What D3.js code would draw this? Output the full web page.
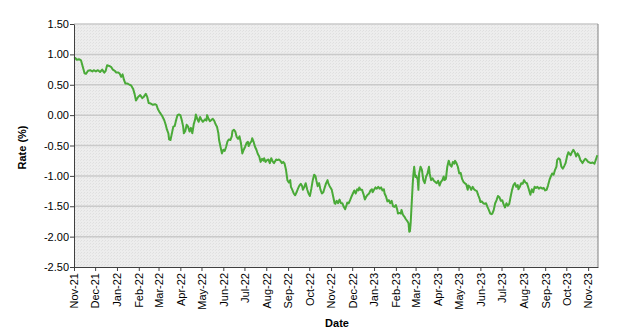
<!DOCTYPE html>
<html>
<head>
<meta charset="utf-8">
<script src="https://cdn.jsdelivr.net/npm/d3@7/dist/d3.min.js"></script>
<style>
  html, body { margin: 0; padding: 0; background: #ffffff; }
  svg { display: block; }
  text { font-family: Arial, "Liberation Sans", sans-serif; fill: #000; }
</style>
</head>
<body>
<svg id="chart" width="621" height="334"></svg>
<script>
// ---- data ----
const dates = [
"2021-11-01","2021-11-03","2021-11-05","2021-11-08","2021-11-11","2021-11-16","2021-11-18","2021-11-21","2021-11-24","2021-11-27","2021-11-29",
"2021-12-02","2021-12-05","2021-12-08","2021-12-11","2021-12-14","2021-12-16","2021-12-18","2021-12-21","2021-12-24","2021-12-26","2021-12-29","2021-12-31",
"2022-01-03","2022-01-05","2022-01-07","2022-01-09","2022-01-11","2022-01-13","2022-01-16","2022-01-19","2022-01-21","2022-01-24","2022-01-26","2022-01-28","2022-01-31",
"2022-02-03","2022-02-06","2022-02-08","2022-02-11","2022-02-13","2022-02-15","2022-02-18","2022-02-21","2022-02-24","2022-02-26","2022-02-28",
"2022-03-03","2022-03-06","2022-03-09","2022-03-11","2022-03-13","2022-03-15","2022-03-16","2022-03-18","2022-03-20","2022-03-22","2022-03-24","2022-03-26","2022-03-28","2022-03-30",
"2022-04-01","2022-04-03","2022-04-05","2022-04-06","2022-04-08","2022-04-10","2022-04-12","2022-04-14","2022-04-16","2022-04-18","2022-04-20","2022-04-22","2022-04-23","2022-04-25","2022-04-27","2022-04-29",
"2022-05-01","2022-05-03","2022-05-06","2022-05-08","2022-05-09","2022-05-11","2022-05-13","2022-05-15","2022-05-17","2022-05-19","2022-05-21","2022-05-23","2022-05-25","2022-05-26","2022-05-28","2022-05-30",
"2022-06-01","2022-06-03","2022-06-05","2022-06-07","2022-06-09","2022-06-11","2022-06-13","2022-06-14","2022-06-16","2022-06-18","2022-06-20","2022-06-22","2022-06-24","2022-06-26","2022-06-28","2022-06-30",
"2022-07-02","2022-07-04","2022-07-06","2022-07-07","2022-07-09","2022-07-11","2022-07-12","2022-07-14","2022-07-16","2022-07-18","2022-07-20","2022-07-22","2022-07-24","2022-07-26","2022-07-28","2022-07-29","2022-07-31",
"2022-08-02","2022-08-04","2022-08-06","2022-08-08","2022-08-10","2022-08-12","2022-08-14","2022-08-15","2022-08-17","2022-08-19","2022-08-21","2022-08-23","2022-08-25","2022-08-27","2022-08-29","2022-08-31",
"2022-09-02","2022-09-04","2022-09-05","2022-09-07","2022-09-09","2022-09-11","2022-09-13","2022-09-15","2022-09-17","2022-09-19","2022-09-21","2022-09-22","2022-09-24","2022-09-26","2022-09-28","2022-09-30",
"2022-10-02","2022-10-04","2022-10-06","2022-10-08","2022-10-10","2022-10-11","2022-10-13","2022-10-15","2022-10-17","2022-10-19","2022-10-21","2022-10-23","2022-10-25","2022-10-27","2022-10-28","2022-10-30",
"2022-11-02","2022-11-04","2022-11-06","2022-11-07","2022-11-09","2022-11-11","2022-11-13","2022-11-15","2022-11-17","2022-11-19","2022-11-21","2022-11-23","2022-11-24","2022-11-26","2022-11-28","2022-11-30",
"2022-12-02","2022-12-04","2022-12-06","2022-12-08","2022-12-10","2022-12-11","2022-12-13","2022-12-15","2022-12-17","2022-12-19","2022-12-21","2022-12-23","2022-12-25","2022-12-27","2022-12-29","2022-12-30",
"2023-01-01","2023-01-03","2023-01-05","2023-01-07","2023-01-09","2023-01-11","2023-01-13","2023-01-15","2023-01-16","2023-01-18","2023-01-20","2023-01-22","2023-01-24","2023-01-26","2023-01-28","2023-01-30",
"2023-02-01","2023-02-03","2023-02-04","2023-02-06","2023-02-08","2023-02-09","2023-02-11","2023-02-13","2023-02-15","2023-02-17","2023-02-19","2023-02-20","2023-02-21","2023-02-22","2023-02-23","2023-02-24","2023-02-25","2023-02-26","2023-02-27","2023-02-28",
"2023-03-01","2023-03-02","2023-03-04","2023-03-05","2023-03-06","2023-03-08","2023-03-10","2023-03-12","2023-03-14","2023-03-16","2023-03-18","2023-03-20","2023-03-21","2023-03-23","2023-03-25","2023-03-27","2023-03-29","2023-03-31",
"2023-04-02","2023-04-04","2023-04-06","2023-04-08","2023-04-10","2023-04-11","2023-04-13","2023-04-15","2023-04-17","2023-04-19","2023-04-21","2023-04-23","2023-04-25","2023-04-26","2023-04-28","2023-04-30",
"2023-05-02","2023-05-04","2023-05-06","2023-05-08","2023-05-10","2023-05-12","2023-05-14","2023-05-15","2023-05-17","2023-05-19","2023-05-21","2023-05-23","2023-05-25","2023-05-27","2023-05-29","2023-05-31",
"2023-06-01","2023-06-03","2023-06-05","2023-06-07","2023-06-09","2023-06-11","2023-06-13","2023-06-15","2023-06-17","2023-06-18","2023-06-20","2023-06-22","2023-06-24","2023-06-26","2023-06-28","2023-06-30",
"2023-07-02","2023-07-04","2023-07-06","2023-07-08","2023-07-10","2023-07-12","2023-07-14","2023-07-16","2023-07-18","2023-07-20","2023-07-22","2023-07-24","2023-07-25","2023-07-27","2023-07-29","2023-07-31",
"2023-08-02","2023-08-04","2023-08-06","2023-08-08","2023-08-10","2023-08-11","2023-08-13","2023-08-15","2023-08-17","2023-08-19","2023-08-21","2023-08-23","2023-08-25","2023-08-27","2023-08-28","2023-08-30",
"2023-09-01","2023-09-03","2023-09-05","2023-09-07","2023-09-09","2023-09-11","2023-09-13","2023-09-15","2023-09-17","2023-09-18","2023-09-20","2023-09-22","2023-09-24","2023-09-26","2023-09-28","2023-09-30",
"2023-10-02","2023-10-04","2023-10-05","2023-10-07","2023-10-09","2023-10-11","2023-10-13","2023-10-15","2023-10-17","2023-10-19","2023-10-21","2023-10-23","2023-10-24","2023-10-26","2023-10-28","2023-10-30",
"2023-11-01","2023-11-03","2023-11-05","2023-11-07","2023-11-09","2023-11-10","2023-11-12","2023-11-14"
];
const rates = [
0.93,0.94,0.91,0.92,0.90,0.69,0.68,0.73,0.74,0.72,0.74,
0.72,0.74,0.71,0.75,0.70,0.73,0.82,0.81,0.79,0.75,0.73,0.70,
0.70,0.68,0.63,0.67,0.58,0.52,0.52,0.50,0.49,0.43,0.35,0.24,0.30,
0.33,0.28,0.30,0.35,0.30,0.20,0.19,0.17,0.18,0.17,0.10,
0.04,-0.01,-0.08,-0.15,-0.24,-0.30,-0.40,-0.41,-0.30,-0.19,-0.18,-0.08,0.00,0.01,
0.00,-0.08,-0.19,-0.30,-0.26,-0.16,-0.19,-0.27,-0.21,-0.30,-0.15,-0.07,0.01,-0.06,-0.11,-0.03,
-0.08,-0.11,-0.07,-0.09,0.00,-0.06,-0.10,-0.08,-0.06,-0.09,-0.15,-0.19,-0.30,-0.41,-0.52,-0.63,
-0.57,-0.59,-0.52,-0.43,-0.40,-0.41,-0.35,-0.26,-0.24,-0.27,-0.36,-0.39,-0.35,-0.46,-0.63,-0.57,
-0.52,-0.46,-0.44,-0.51,-0.46,-0.43,-0.38,-0.44,-0.52,-0.57,-0.64,-0.68,-0.77,-0.72,-0.75,-0.71,-0.77,
-0.74,-0.73,-0.79,-0.71,-0.76,-0.79,-0.75,-0.73,-0.74,-0.73,-0.75,-0.79,-0.77,-0.80,-0.90,-1.07,
-1.11,-1.07,-1.18,-1.23,-1.29,-1.32,-1.27,-1.21,-1.16,-1.13,-1.17,-1.23,-1.18,-1.12,-1.22,-1.29,
-1.33,-1.21,-1.07,-0.98,-1.01,-1.07,-1.17,-1.12,-1.23,-1.29,-1.27,-1.19,-1.12,-1.07,-1.12,-1.17,
-1.23,-1.34,-1.45,-1.46,-1.41,-1.45,-1.39,-1.45,-1.45,-1.51,-1.55,-1.48,-1.44,-1.45,-1.40,-1.34,
-1.29,-1.24,-1.29,-1.22,-1.24,-1.19,-1.23,-1.23,-1.30,-1.39,-1.34,-1.31,-1.29,-1.24,-1.22,-1.27,
-1.23,-1.19,-1.21,-1.18,-1.21,-1.19,-1.24,-1.22,-1.29,-1.34,-1.42,-1.40,-1.45,-1.41,-1.50,-1.51,
-1.48,-1.56,-1.62,-1.61,-1.62,-1.56,-1.64,-1.67,-1.71,-1.74,-1.78,-1.92,-1.91,-1.78,-1.56,-1.34,-1.12,-0.96,-0.85,-0.96,
-1.02,-1.00,-1.06,-1.23,-0.96,-0.85,-0.90,-1.07,-1.12,-1.01,-0.96,-0.85,-0.96,-1.07,-1.04,-1.08,-1.10,-1.12,
-1.08,-1.16,-1.10,-1.07,-1.01,-1.07,-1.05,-0.85,-0.75,-0.82,-0.85,-0.77,-0.80,-0.75,-0.79,-0.85,
-0.96,-0.95,-1.05,-1.10,-1.12,-1.14,-1.23,-1.16,-1.18,-1.23,-1.18,-1.22,-1.24,-1.25,-1.32,-1.38,
-1.43,-1.42,-1.45,-1.46,-1.45,-1.51,-1.56,-1.62,-1.63,-1.62,-1.56,-1.45,-1.40,-1.33,-1.35,-1.41,
-1.40,-1.47,-1.52,-1.45,-1.49,-1.46,-1.34,-1.23,-1.15,-1.12,-1.18,-1.15,-1.22,-1.18,-1.12,-1.13,
-1.07,-1.11,-1.12,-1.19,-1.27,-1.31,-1.22,-1.27,-1.18,-1.20,-1.18,-1.21,-1.19,-1.20,-1.21,-1.20,
-1.24,-1.23,-1.16,-1.07,-1.01,-0.96,-0.98,-0.90,-0.85,-0.74,-0.71,-0.73,-0.85,-0.88,-0.84,-0.79,
-0.68,-0.61,-0.63,-0.66,-0.61,-0.57,-0.61,-0.68,-0.63,-0.67,-0.74,-0.77,-0.79,-0.75,-0.72,-0.74,
-0.77,-0.78,-0.79,-0.78,-0.79,-0.80,-0.73,-0.66
];
const xTickLabels = ["Nov-21","Dec-21","Jan-22","Feb-22","Mar-22","Apr-22","May-22","Jun-22","Jul-22","Aug-22","Sep-22","Oct-22",
  "Nov-22","Dec-22","Jan-23","Feb-23","Mar-23","Apr-23","May-23","Jun-23","Jul-23","Aug-23","Sep-23","Oct-23","Nov-23"];
const yTickValues = [-2.5,-2.0,-1.5,-1.0,-0.5,0.0,0.5,1.0,1.5];
const xDomain = ["2021-11-01","2023-11-15"];
const xTitle = "Date";
const yTitle = "Rate (%)";

// ---- chart ----
const parseDate = d3.timeParse("%Y-%m-%d");
const parseTick = d3.timeParse("%b-%y");
const data = dates.map((d, i) => ({ date: parseDate(d), value: rates[i] }));

const svg = d3.select("#chart");
const plot = { left: 74, right: 598, top: 24, bottom: 267 };

const x = d3.scaleTime().domain(xDomain.map(parseDate)).range([plot.left, plot.right]);
const y = d3.scaleLinear().domain([-2.5, 1.5]).range([plot.bottom, plot.top]);

// subtle stipple pattern background
const defs = svg.append("defs");
const pat = defs.append("pattern").attr("id", "stip").attr("width", 3).attr("height", 3)
  .attr("patternUnits", "userSpaceOnUse");
pat.append("rect").attr("width", 3).attr("height", 3).attr("fill", "#ededed");
pat.append("rect").attr("x", 0).attr("y", 0).attr("width", 1).attr("height", 1).attr("fill", "#dfdfdf");
pat.append("rect").attr("x", 2).attr("y", 1).attr("width", 1).attr("height", 1).attr("fill", "#e3e3e3");

svg.append("rect")
  .attr("x", plot.left).attr("y", plot.top)
  .attr("width", plot.right - plot.left).attr("height", plot.bottom - plot.top)
  .attr("fill", "url(#stip)");

// gridlines
svg.append("g").selectAll("line")
  .data(yTickValues.filter(v => v > -2.5))
  .join("line")
  .attr("x1", plot.left).attr("x2", plot.right)
  .attr("y1", d => y(d)).attr("y2", d => y(d))
  .attr("stroke", "#cacaca").attr("stroke-width", 1.5);

// right border
svg.append("line")
  .attr("x1", plot.right).attr("x2", plot.right)
  .attr("y1", plot.top).attr("y2", plot.bottom)
  .attr("stroke", "#808080").attr("stroke-width", 1);

// line
svg.append("path")
  .datum(data)
  .attr("fill", "none")
  .attr("stroke", "#4aaa38")
  .attr("stroke-width", 2)
  .attr("stroke-linejoin", "round")
  .attr("d", d3.line().x(d => x(d.date)).y(d => y(d.value)));

// y axis
const yAxis = d3.axisLeft(y).tickValues(yTickValues).tickFormat(d => d.toFixed(2)).tickSize(4).tickSizeOuter(0);
const gy = svg.append("g").attr("transform", `translate(${plot.left},0)`).call(yAxis);
gy.select(".domain").attr("stroke", "#404040");
gy.selectAll(".tick line").attr("stroke", "#404040");
gy.selectAll(".tick text").attr("font-size", 11).attr("x", -5).attr("fill", "#000")
  .style("font-family", "Arial, 'Liberation Sans', sans-serif");

// x axis
const xTicks = xTickLabels.map(parseTick);
const fmt = d3.timeFormat("%b-%y");
const xAxis = d3.axisBottom(x).tickValues(xTicks).tickFormat(fmt).tickSize(4).tickSizeOuter(0);
const gx = svg.append("g").attr("transform", `translate(0,${plot.bottom})`).call(xAxis);
gx.select(".domain").attr("stroke", "#404040");
gx.selectAll(".tick line").attr("stroke", "#404040");
gx.selectAll(".tick text")
  .attr("font-size", 11)
  .attr("fill", "#000")
  .style("font-family", "Arial, 'Liberation Sans', sans-serif")
  .attr("text-anchor", "end")
  .attr("transform", "rotate(-90)")
  .attr("x", -6)
  .attr("y", 0)
  .attr("dy", "0.35em");

// titles
svg.append("text")
  .attr("x", 337).attr("y", 327)
  .attr("text-anchor", "middle")
  .attr("font-size", 11).attr("font-weight", "bold")
  .text(xTitle);

svg.append("text")
  .attr("transform", `translate(26,${(plot.top + plot.bottom) / 2 + 2}) rotate(-90)`)
  .attr("text-anchor", "middle")
  .attr("font-size", 11).attr("font-weight", "bold")
  .text(yTitle);
</script>
</body>
</html>
